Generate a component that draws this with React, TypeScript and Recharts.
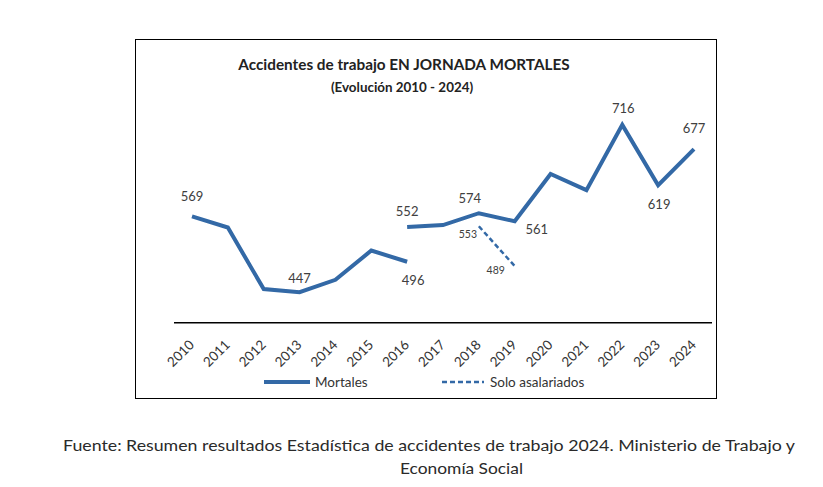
import { LineChart, Line, XAxis, YAxis, LabelList } from 'recharts'

// Años del eje
const years = ['2010', '2011', '2012', '2013', '2014', '2015', '2016', '2017', '2018', '2019', '2020', '2021', '2022', '2023', '2024']

// Mortales: serie hasta 2016 y serie nueva desde 2016 (cambio de metodología)
const mortalesAntes = [569, 551, 452, 447, 467, 514, 496, null, null, null, null, null, null, null, null]
const mortalesDespues = [null, null, null, null, null, null, 552, 555, 574, 561, 637, 611, 716, 619, 677]
// Solo asalariados
const soloAsalariados = [null, null, null, null, null, null, null, null, 553, 489, null, null, null, null, null]

// Which points carry a value label, and where the label sits relative to the point
const antesLabels: Record<string, [number, number]> = {
  '2010': [0, -20],
  '2013': [0, -14],
  '2016': [6, 18],
}
const despuesLabels: Record<string, [number, number]> = {
  '2016': [0, -16],
  '2018': [-9, -15],
  '2019': [22, 8],
  '2022': [1, -17],
  '2023': [1, 19],
  '2024': [0, -21],
}
const asalariadosLabels: Record<string, [number, number]> = {
  '2018': [-11, 8],
  '2019': [-19, 4],
}

const chartData = years.map((year, i) => ({
  year,
  antes: mortalesAntes[i],
  despues: mortalesDespues[i],
  asalariados: soloAsalariados[i],
}))

const BLUE = '#3369a6'
const FONT = 'Lato, "Open Sans", sans-serif'

const makeLabel = (offsets: Record<string, [number, number]>, fontSize: number) => (props: any) => {
  const { x, y, value, index } = props
  const off = offsets[years[index]]
  if (!off || value == null) return null
  return (
    <text
      x={x + off[0]}
      y={y + off[1]}
      textAnchor="middle"
      dominantBaseline="central"
      fontFamily={FONT}
      fontSize={fontSize}
      fill="#404040"
    >
      {value}
    </text>
  )
}

const YearTick = (props: any) => {
  const { x, y, payload } = props
  return (
    <g transform={`translate(${x + 3},${y + 15})`}>
      <text
        transform="rotate(-45)"
        textAnchor="end"
        fontFamily={FONT}
        fontSize={13.5}
        fill="#333"
      >
        {payload.value}
      </text>
    </g>
  )
}

export default function App() {
  return (
    <div style={{ position: 'absolute', left: 0, top: 0, width: 823, height: 487, background: '#fff' }}>
      <div
        style={{
          position: 'absolute',
          left: 135,
          top: 39,
          width: 580,
          height: 358,
          border: '1px solid #000',
        }}
      />
      <LineChart
        width={823}
        height={487}
        data={chartData}
        margin={{ top: 97.5, right: 111, left: 174, bottom: 104.3 }}
        style={{ position: 'absolute', left: 0, top: 0 }}
      >
        <XAxis
          dataKey="year"
          padding={{ left: 18, right: 18 }}
          stroke="#000"
          strokeWidth={1.5}
          tickLine={false}
          tick={<YearTick />}
          interval={0}
          height={60}
        />
        <YAxis hide domain={[398, 760]} allowDataOverflow />
        <Line
          dataKey="antes"
          stroke={BLUE}
          strokeWidth={4}
          dot={false}
          activeDot={false}
          isAnimationActive={false}
        >
          <LabelList dataKey="antes" content={makeLabel(antesLabels, 13)} />
        </Line>
        <Line
          dataKey="despues"
          stroke={BLUE}
          strokeWidth={4}
          dot={false}
          activeDot={false}
          isAnimationActive={false}
        >
          <LabelList dataKey="despues" content={makeLabel(despuesLabels, 13)} />
        </Line>
        <Line
          dataKey="asalariados"
          stroke={BLUE}
          strokeWidth={2.5}
          strokeDasharray="5 3"
          dot={false}
          activeDot={false}
          isAnimationActive={false}
        >
          <LabelList dataKey="asalariados" content={makeLabel(asalariadosLabels, 10.5)} />
        </Line>
      </LineChart>

      {/* títulos, leyenda y fuente */}
      <svg width={823} height={487} style={{ position: 'absolute', left: 0, top: 0, pointerEvents: 'none' }}>
        <text x={404} y={70} textAnchor="middle" fontFamily={FONT} fontWeight={700} fontSize={15.3} fill="#222">
          Accidentes de trabajo EN JORNADA MORTALES
        </text>
        <text x={402} y={92} textAnchor="middle" fontFamily={FONT} fontWeight={700} fontSize={13.4} fill="#222">
          (Evolución 2010 - 2024)
        </text>

        <line x1={264} y1={382} x2={310} y2={382} stroke={BLUE} strokeWidth={4} />
        <text x={315} y={387} fontFamily={FONT} fontSize={13.5} fill="#333">
          Mortales
        </text>
        <line x1={442} y1={382} x2={484} y2={382} stroke={BLUE} strokeWidth={2.5} strokeDasharray="5 3" />
        <text x={490} y={387} fontFamily={FONT} fontSize={13.5} fill="#333">
          Solo asalariados
        </text>

        <text
          x={63}
          y={451}
          textLength={732}
          lengthAdjust="spacingAndGlyphs"
          fontFamily={FONT}
          fontSize={16}
          fill="#2a2a2a"
        >
          Fuente: Resumen resultados Estadística de accidentes de trabajo 2024. Ministerio de Trabajo y
        </text>
        <text
          x={400}
          y={474}
          textLength={123}
          lengthAdjust="spacingAndGlyphs"
          fontFamily={FONT}
          fontSize={16}
          fill="#2a2a2a"
        >
          Economía Social
        </text>
      </svg>
    </div>
  )
}
